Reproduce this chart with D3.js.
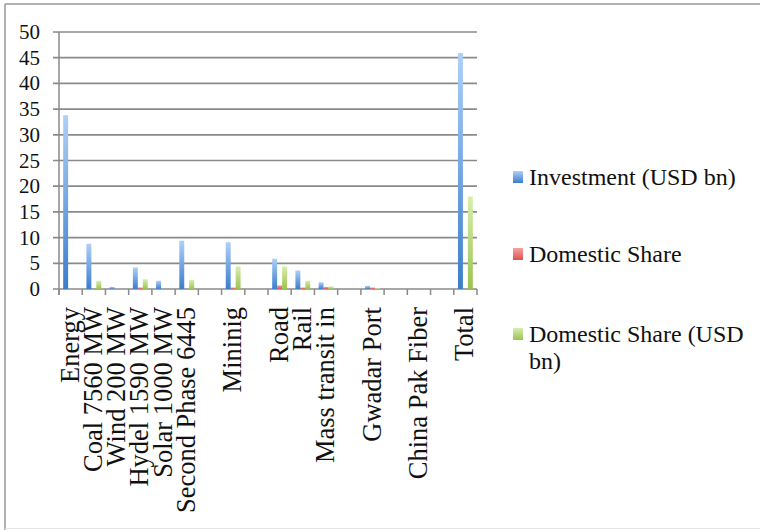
<!DOCTYPE html>
<html>
<head>
<meta charset="utf-8">
<script src="https://cdn.jsdelivr.net/npm/d3@7"></script>
<style>
  body { margin: 0; background: #fff; }
  text { font-family: "Liberation Serif", "Times New Roman", serif; fill: #111; }
</style>
</head>
<body>
<svg id="chart" width="760" height="530"></svg>
<script>
// categories (blank ones are empty slots on the axis)
let labels = ['Energy', 'Coal 7560 MW', 'Wind 200 MW', 'Hydel 1590 MW', 'Solar 1000 MW',
  'Second Phase 6445', '', 'Mininig', '', 'Road', 'Rail', 'Mass transit in', '',
  'Gwadar Port', '', 'China Pak Fiber', '', 'Total']

let investment = [33.8, 8.8, 0.4, 4.2, 1.6, 9.4, 0, 9.1, 0, 5.9, 3.6, 1.3, 0, 0.6, 0, 0, 0, 45.9]
let domesticShare = [0, 0, 0, 0.3, 0, 0, 0, 0.3, 0, 0.7, 0.3, 0.4, 0, 0.3, 0, 0, 0, 0]
let domesticUsd = [0, 1.6, 0, 1.9, 0, 1.75, 0, 4.4, 0, 4.4, 1.6, 0.5, 0, 0.1, 0, 0, 0, 18.0]

let seriesNames = ['Investment (USD bn)', 'Domestic Share', 'Domestic Share (USD bn)']
let yTicks = [0, 5, 10, 15, 20, 25, 30, 35, 40, 45, 50]

let svg = d3.select('#chart')

// frame
svg.append('line').attr('x1', 5).attr('y1', 4).attr('x2', 760).attr('y2', 4)
  .attr('stroke', '#999').attr('stroke-width', 1.5)
svg.append('line').attr('x1', 5).attr('y1', 4).attr('x2', 5).attr('y2', 530)
  .attr('stroke', '#999').attr('stroke-width', 1.5)
svg.append('line').attr('x1', 5).attr('y1', 528.5).attr('x2', 760).attr('y2', 528.5)
  .attr('stroke', '#e4e4e4').attr('stroke-width', 1)

let plotLeft = 59, plotRight = 477, plotTop = 32, plotBottom = 289

let x = d3.scaleBand().domain(d3.range(labels.length)).range([plotLeft, plotRight])
let x1 = d3.scaleBand().domain(d3.range(3))
  .range([x.bandwidth() * 0.18, x.bandwidth() * 0.82])
let y = d3.scaleLinear().domain([0, 50]).range([plotBottom, plotTop])

// gradients like the old office bars
let defs = svg.append('defs')
let grads = [['#aed0f8', '#3b7dcc'], ['#f7a3a0', '#d9534f'], ['#d8eeae', '#9cc350']]
grads.forEach((g, i) => {
  let lg = defs.append('linearGradient').attr('id', 'g' + i)
    .attr('x1', 0).attr('y1', 0).attr('x2', 0).attr('y2', 1)
  lg.append('stop').attr('offset', '0%').attr('stop-color', g[0])
  lg.append('stop').attr('offset', '100%').attr('stop-color', g[1])
})

// grid lines
svg.append('g').selectAll('line')
  .data(yTicks)
  .enter()
  .append('line')
  .attr('x1', plotLeft - 6).attr('x2', plotRight)
  .attr('y1', d => y(d)).attr('y2', d => y(d))
  .attr('stroke', '#8a8a8a').attr('stroke-width', 1.7)

// y axis line
svg.append('line').attr('x1', plotLeft).attr('x2', plotLeft).attr('y1', plotTop).attr('y2', plotBottom + 6)
  .attr('stroke', '#8a8a8a').attr('stroke-width', 1.5)

// category ticks
svg.append('g').selectAll('line')
  .data(d3.range(labels.length + 1))
  .enter()
  .append('line')
  .attr('x1', d => plotLeft + d * x.bandwidth()).attr('x2', d => plotLeft + d * x.bandwidth())
  .attr('y1', plotBottom).attr('y2', plotBottom + 6)
  .attr('stroke', '#8a8a8a').attr('stroke-width', 1.5)

// y labels
svg.append('g').selectAll('text')
  .data(yTicks)
  .enter()
  .append('text')
  .attr('x', 40).attr('y', d => y(d) + 7)
  .attr('text-anchor', 'end')
  .style('font-size', '21px')
  .text(d => d)

// bars
let series = [investment, domesticShare, domesticUsd]
series.forEach((vals, s) => {
  svg.append('g').selectAll('rect')
    .data(vals)
    .enter()
    .append('rect')
    .attr('x', (d, i) => x(i) + x1(s))
    .attr('width', x1.bandwidth())
    .attr('y', d => y(d))
    .attr('height', d => y(0) - y(d))
    .attr('fill', 'url(#g' + s + ')')
})

// x labels
svg.append('g').selectAll('text')
  .data(labels)
  .enter()
  .append('text')
  .attr('transform', (d, i) => 'translate(' + (x(i) + x.bandwidth() / 2 + 8) + ',307) rotate(-90)')
  .attr('text-anchor', 'end')
  .style('font-size', '26.5px')
  .text(d => d)

// legend
let legendY = [185, 262, 342]
seriesNames.forEach((name, i) => {
  svg.append('rect').attr('x', 513).attr('y', legendY[i] - 14).attr('width', 10).attr('height', 12)
    .attr('fill', 'url(#g' + i + ')')
  let t = svg.append('text').attr('x', 529).attr('y', legendY[i]).style('font-size', '24px')
  if (i == 2) {
    t.append('tspan').text('Domestic Share (USD')
    t.append('tspan').attr('x', 529).attr('dy', 27).text('bn)')
  } else {
    t.text(name)
  }
})
</script>
</body>
</html>
